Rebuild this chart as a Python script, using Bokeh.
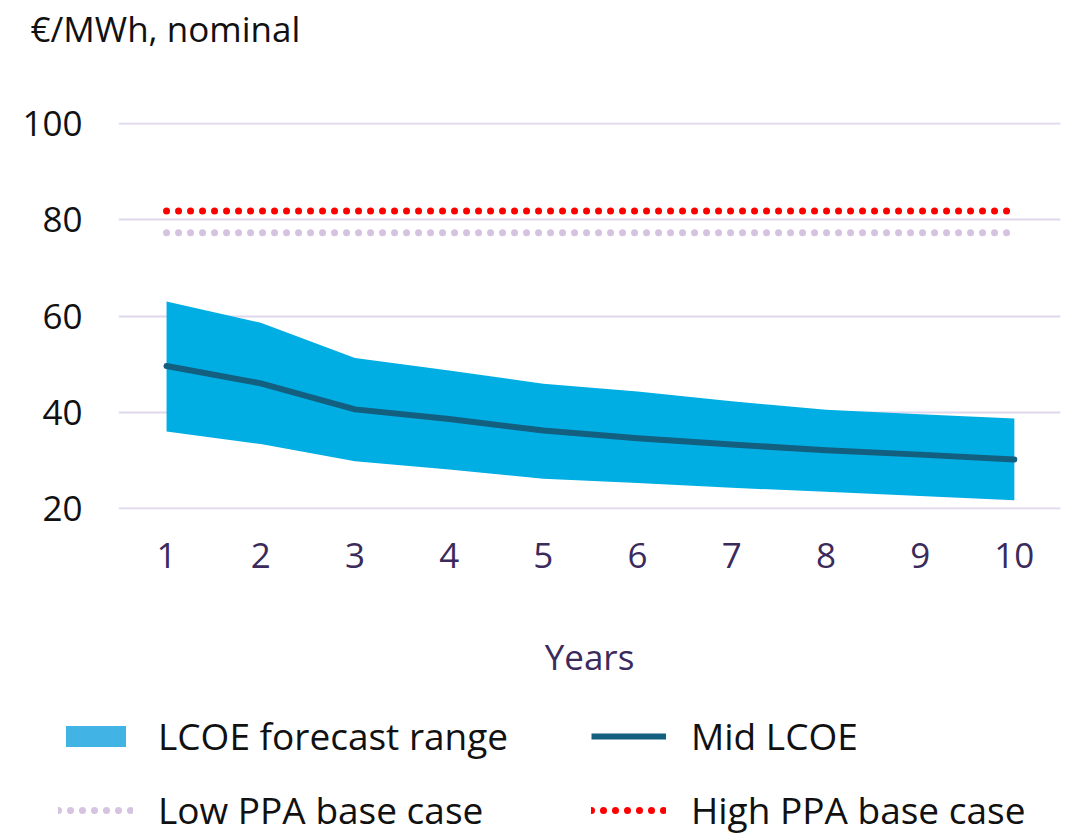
from bokeh.plotting import figure
from bokeh.models import Legend, LegendItem, FixedTicker, Range1d, Title
from bokeh.layouts import column, row
from bokeh.embed import file_html
from bokeh.resources import INLINE

years = [1, 2, 3, 4, 5, 6, 7, 8, 9, 10]
lcoe_high = [63.0, 58.6, 51.3, 48.7, 45.9, 44.3, 42.3, 40.5, 39.6, 38.7]
lcoe_mid = [49.6, 46.0, 40.6, 38.6, 36.2, 34.6, 33.3, 32.1, 31.2, 30.2]
lcoe_low = [36.0, 33.4, 29.8, 28.1, 26.2, 25.3, 24.3, 23.5, 22.6, 21.7]
low_ppa = [77.3, 77.3, 77.3, 77.3, 77.3, 77.3, 77.3, 77.3, 77.3, 77.3]
high_ppa = [81.8, 81.8, 81.8, 81.8, 81.8, 81.8, 81.8, 81.8, 81.8, 81.8]
y_ticks = [20, 40, 60, 80, 100]
legend_labels = ["LCOE forecast range", "Mid LCOE", "Low PPA base case", "High PPA base case"]

FONT = "Open Sans"
PURPLE = "#3b2a5c"
BAND = "#00aee3"
MID = "#135f80"
LOWC = "#d6c3e0"
HIGHC = "#ff0000"

p = figure(width=1088, height=700, output_backend="svg", toolbar_location=None,
           x_range=Range1d(0.49, 10.49), y_range=Range1d(19.8, 100.2),
           min_border_left=118, min_border_right=28, min_border_top=122,
           min_border_bottom=191, title=None)
p.outline_line_color = None
p.background_fill_color = "white"
p.border_fill_color = "white"

# spacer (nearest the frame) then the real title above it
p.add_layout(Title(text=" ", text_font_size="10px", standoff=58), "above")
p.add_layout(Title(text="€/MWh, nominal", text_font=FONT, text_font_size="35px",
                   text_font_style="normal", text_color="#111111", align="left",
                   vertical_align="top", offset=-88, standoff=-4), "above")

p.xgrid.grid_line_color = None
p.ygrid.grid_line_color = "#e0d8ee"
p.ygrid.grid_line_width = 2
p.ygrid.ticker = FixedTicker(ticks=y_ticks)

p.yaxis.ticker = FixedTicker(ticks=y_ticks)
p.yaxis.axis_line_color = None
p.yaxis.major_tick_line_color = None
p.yaxis.minor_tick_line_color = None
p.yaxis.major_tick_out = 0
p.yaxis.major_label_text_font = FONT
p.yaxis.major_label_text_font_size = "35px"
p.yaxis.major_label_text_color = "#111111"
p.yaxis.major_label_standoff = 36

p.xaxis.ticker = FixedTicker(ticks=years)
p.xaxis.axis_line_color = None
p.xaxis.major_tick_line_color = None
p.xaxis.minor_tick_line_color = None
p.xaxis.major_tick_out = 0
p.xaxis.major_label_text_font = FONT
p.xaxis.major_label_text_font_size = "35px"
p.xaxis.major_label_text_color = PURPLE
p.xaxis.major_label_standoff = 33
p.xaxis.axis_label = "Years"
p.xaxis.axis_label_text_font = FONT
p.xaxis.axis_label_text_font_size = "35px"
p.xaxis.axis_label_text_font_style = "normal"
p.xaxis.axis_label_text_color = PURPLE
p.xaxis.axis_label_standoff = 62

p.varea(x=years, y1=lcoe_low, y2=lcoe_high, fill_color=BAND, fill_alpha=1.0)
p.line(years, low_ppa, line_color=LOWC, line_width=7, line_dash="0 12", line_cap="round")
p.line(years, high_ppa, line_color=HIGHC, line_width=7, line_dash="0 12", line_cap="round")
p.line(years, lcoe_mid, line_color=MID, line_width=6, line_cap="round", line_join="round")

# legend strip: same series drawn again, but its ranges keep them out of view,
# so only their legend swatches show
lg = figure(width=1088, height=137, output_backend="svg", toolbar_location=None,
            x_range=Range1d(100, 101), y_range=Range1d(500, 501),
            x_axis_location=None, y_axis_location=None,
            min_border_left=0, min_border_right=0, min_border_top=0, min_border_bottom=0)
lg.outline_line_color = None
lg.xgrid.visible = False
lg.ygrid.visible = False
lg.background_fill_color = "white"
lg.border_fill_color = "white"

r_band = lg.varea(x=years, y1=lcoe_low, y2=lcoe_high, fill_color="#41b4e5")
r_mid = lg.line(years, lcoe_mid, line_color=MID, line_width=6)
r_low = lg.line(years, low_ppa, line_color=LOWC, line_width=7, line_dash="0 12", line_cap="round")
r_high = lg.line(years, high_ppa, line_color=HIGHC, line_width=7, line_dash="0 12", line_cap="round")

legend = Legend(items=[
    LegendItem(label=legend_labels[0], renderers=[r_band]),
    LegendItem(label=legend_labels[2], renderers=[r_low]),
    LegendItem(label=legend_labels[1], renderers=[r_mid]),
    LegendItem(label=legend_labels[3], renderers=[r_high]),
], ncols=2, location=(58, 2))
legend.border_line_color = None
legend.background_fill_alpha = 0
legend.label_text_font = FONT
legend.label_text_font_size = "37px"
legend.label_text_color = "#111111"
legend.glyph_width = 75
legend.glyph_height = 26
legend.label_standoff = 25
legend.spacing = 23
legend.label_width = 410
legend.padding = 0
legend.margin = 0
lg.add_layout(legend)

layout = column(p, row(lg), spacing=0)
open("out.html", "w").write(file_html(layout, INLINE))
